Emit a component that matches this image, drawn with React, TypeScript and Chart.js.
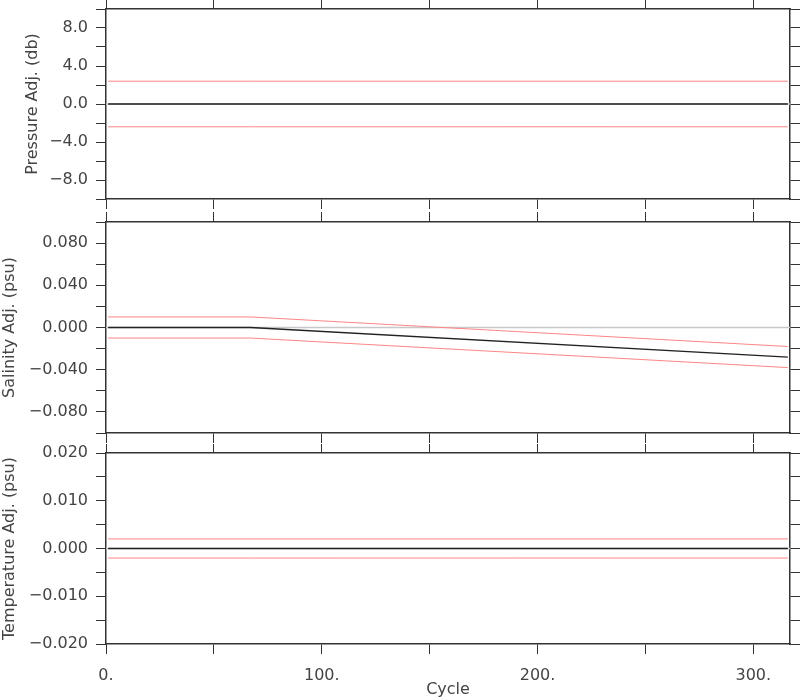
import React, { useEffect, useRef } from "react";
import { Chart, registerables } from "chart.js";

Chart.register(...registerables);

// ---- data ----
const cycles = [1, 67, 316];
const pressureAdj = [0, 0, 0];
const pressureErr = [2.4, 2.4, 2.4];
const salinityAdj = [0, 0, -0.028];
const salinityErr = [0.01, 0.01, 0.01];
const temperatureAdj = [0, 0, 0];
const temperatureErr = [0.002, 0.002, 0.002];
const xRange = [0, 317];
const xTickValues = [0, 50, 100, 150, 200, 250, 300];
const xLabelValues = [0, 100, 200, 300];

const FONT = "DejaVu Sans";
const AXIS = "#333";
const TEXT = "#444";
const RED = "#ff8585";
const BLACK = "#222";
const GRAY = "#c8c8c8";

const fmt = (v: number, d: number) => {
  const s = Math.abs(v) < 1e-12 ? (0).toFixed(d) : v.toFixed(d);
  return s.replace("-", "\u2212");
};

type PanelCfg = {
  adj: number[];
  err: number[];
  min: number;
  max: number;
  step: number;
  labelEvery: number;
  decimals: number;
  title: string;
  titlePad: number;
  topH: number;
  bottomH: number;
  topTick: number;
  showX: boolean;
  zeroRef: boolean;
};

function pts(vals: number[]) {
  return cycles.map((c, i) => ({ x: c, y: vals[i] }));
}

function buildConfig(p: PanelCfg): any {
  const upper = p.adj.map((v, i) => v + p.err[i]);
  const lower = p.adj.map((v, i) => v - p.err[i]);
  const datasets: any[] = [];
  // first dataset is drawn on top
  datasets.push({ data: pts(p.adj), borderColor: BLACK, borderWidth: 1.3 });
  datasets.push({ data: pts(upper), borderColor: RED, borderWidth: 1 });
  datasets.push({ data: pts(lower), borderColor: RED, borderWidth: 1 });
  if (p.zeroRef) {
    datasets.push({
      data: [
        { x: xRange[0], y: 0 },
        { x: xRange[1], y: 0 },
      ],
      borderColor: GRAY,
      borderWidth: 1.5,
    });
  }

  const grid = (len: number) => ({
    drawOnChartArea: false,
    drawTicks: true,
    tickLength: len,
    color: AXIS,
    lineWidth: 1,
  });
  const border = { display: true, color: AXIS, width: 1.5 };
  const xTicksCfg = {
    stepSize: 50,
    includeBounds: false,
  };
  const noPadX = (s: any) => {
    s.paddingLeft = 0;
    s.paddingRight = 0;
  };
  const noPadY = (s: any) => {
    s.paddingTop = 0;
    s.paddingBottom = 0;
  };

  return {
    type: "line",
    data: { datasets },
    options: {
      animation: false,
      responsive: false,
      events: [],
      layout: { padding: 0 },
      elements: { point: { radius: 0 }, line: { tension: 0 } },
      plugins: { legend: { display: false }, tooltip: { enabled: false } },
      scales: {
        x: {
          type: "linear",
          position: "bottom",
          min: xRange[0],
          max: xRange[1],
          grid: grid(10),
          border,
          afterBuildTicks: (s: any) => {
            s.ticks = xTickValues.map((v) => ({ value: v }));
          },
          ticks: {
            ...xTicksCfg,
            display: p.showX,
            color: TEXT,
            padding: 12,
            maxRotation: 0,
            autoSkip: false,
            font: { family: FONT, size: 16, lineHeight: 1.2 },
            callback: (v: number) => (xLabelValues.includes(v) ? `${v}.` : ""),
          },
          title: {
            display: p.showX,
            text: "Cycle",
            color: TEXT,
            font: { family: FONT, size: 16, lineHeight: 1.2 },
            padding: { top: 0, bottom: 0.5 },
          },
          afterFit: (s: any) => {
            s.height = p.bottomH;
            noPadX(s);
          },
        },
        xTop: {
          type: "linear",
          axis: "x",
          position: "top",
          min: xRange[0],
          max: xRange[1],
          grid: grid(p.topTick),
          border,
          afterBuildTicks: (s: any) => {
            s.ticks = xTickValues.map((v) => ({ value: v }));
          },
          ticks: { ...xTicksCfg, display: false },
          afterFit: (s: any) => {
            s.height = p.topH;
            noPadX(s);
          },
        },
        y: {
          type: "linear",
          position: "left",
          min: p.min,
          max: p.max,
          grid: grid(10),
          border,
          ticks: {
            stepSize: p.step,
            color: TEXT,
            padding: 8,
            autoSkip: false,
            font: { family: FONT, size: 16, lineHeight: 1.2 },
            callback: (v: number) =>
              Math.abs(Math.round(v / p.step)) % p.labelEvery === 0
                ? fmt(v, p.decimals)
                : "",
          },
          title: {
            display: true,
            text: p.title,
            color: TEXT,
            font: { family: FONT, size: 16, lineHeight: 1.2 },
            padding: { top: p.titlePad, bottom: 0 },
          },
          afterFit: (s: any) => {
            s.width = 106;
            noPadY(s);
          },
        },
        yRight: {
          type: "linear",
          axis: "y",
          position: "right",
          min: p.min,
          max: p.max,
          grid: grid(10),
          border,
          ticks: { stepSize: p.step, display: false },
          afterFit: (s: any) => {
            s.width = 10;
            noPadY(s);
          },
        },
      },
    },
  };
}

const panels: { top: number; h: number; cfg: PanelCfg }[] = [
  {
    top: 0,
    h: 210,
    cfg: {
      adj: pressureAdj,
      err: pressureErr,
      min: -10,
      max: 10,
      step: 2,
      labelEvery: 2,
      decimals: 1,
      title: "Pressure Adj. (db)",
      titlePad: 23,
      topH: 9,
      bottomH: 11,
      topTick: 9,
      showX: false,
      zeroRef: true,
    },
  },
  {
    top: 210,
    h: 234,
    cfg: {
      adj: salinityAdj,
      err: salinityErr,
      min: -0.1,
      max: 0.1,
      step: 0.02,
      labelEvery: 2,
      decimals: 3,
      title: "Salinity Adj. (psu)",
      titlePad: 0.5,
      topH: 12,
      bottomH: 11,
      topTick: 10,
      showX: false,
      zeroRef: true,
    },
  },
  {
    top: 444,
    h: 256,
    cfg: {
      adj: temperatureAdj,
      err: temperatureErr,
      min: -0.02,
      max: 0.02,
      step: 0.005,
      labelEvery: 2,
      decimals: 3,
      title: "Temperature Adj. (psu)",
      titlePad: 0.5,
      topH: 9,
      bottomH: 56,
      topTick: 9,
      showX: true,
      zeroRef: true,
    },
  },
];

function Panel({ top, h, cfg }: { top: number; h: number; cfg: PanelCfg }) {
  const ref = useRef<HTMLCanvasElement | null>(null);
  useEffect(() => {
    if (!ref.current) return;
    const chart = new Chart(ref.current, buildConfig(cfg));
    return () => chart.destroy();
  }, []);
  return (
    <canvas
      ref={ref}
      width={800}
      height={h}
      style={{ position: "absolute", left: 0, top, width: 800, height: h, display: "block" }}
    />
  );
}

export default function App() {
  return (
    <div
      style={{
        position: "absolute",
        left: 0,
        top: 0,
        width: 800,
        height: 700,
        background: "#fff",
      }}
    >
      {panels.map((p, i) => (
        <Panel key={i} top={p.top} h={p.h} cfg={p.cfg} />
      ))}
    </div>
  );
}
